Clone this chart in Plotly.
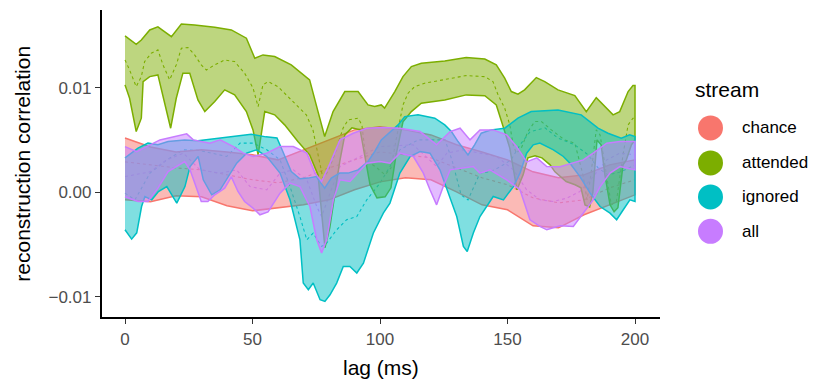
import plotly.graph_objects as go

# ---------------- data (values in units of 1e-3) ----------------
chance_lag = [0, 10, 20, 30, 40, 50, 60, 70, 80, 90, 100, 110, 120, 130, 140, 150, 160, 170, 180, 190, 200]
chance_up = [5.21, 4.35, 3.87, 4.07, 3.87, 3.59, 3.11, 4.07, 5.02, 5.98, 6.27, 5.98, 5.50, 4.55, 3.87, 3.11, 1.96, 1.39, 1.67, 2.63, 3.11]
chance_mid = [2.92, 2.63, 2.34, 2.15, 1.67, 1.20, 0.91, 1.39, 2.34, 3.11, 3.87, 3.59, 3.30, 2.34, 1.39, 0.72, -0.53, -1.01, -0.72, 0.43, 1.20]
chance_lo = [-0.72, -0.91, -0.34, -0.43, -1.29, -1.77, -1.48, -1.20, -0.72, 0.24, 1.00, 1.39, 1.20, 0.05, -1.20, -1.67, -3.21, -3.40, -2.15, -1.20, -0.24]

att_up_lag = [0, 4.4, 6.4, 9.7, 12.9, 18.2, 22.1, 27.3, 35.2, 41.7, 47.6, 50.9, 54.1, 58.7, 65.2, 72.4, 75.7, 78.3, 81.6, 86.2,
              91.4, 95.3, 97.9, 100.5, 101.8, 105.8, 109, 112.3, 116.2, 125.4, 133.8, 141.1, 145.6, 148.9, 151.5, 154.1, 156.7,
              161.3, 164.6, 169.8, 176.4, 180.9, 184.8, 188.1, 191.4, 194, 197.3, 199.2, 200]
att_up = [14.98, 14.18, 14.59, 15.55, 15.84, 14.91, 16.12, 16.03, 15.81, 15.55, 14.76, 12.84, 13.16, 13.00, 12.20, 10.77, 7.73,
          5.34, 7.73, 9.65, 9.65, 8.37, 8.21, 8.37, 8.06, 9.65, 11.08, 12.04, 12.36, 12.58, 12.90, 12.77, 12.20, 10.93, 9.65,
          9.40, 9.81, 10.99, 10.60, 9.81, 9.26, 7.73, 9.07, 8.21, 7.42, 7.73, 9.65, 10.22, 10.22]
att_mid_lag = [0, 1.8, 4.4, 6.4, 7.7, 10.3, 12.9, 14.9, 17.5, 20.1, 22.1, 24.7, 27.3, 29.9, 31.9, 35.2, 39.1, 43, 46.9, 50.2,
               52.2, 54.1, 56.1, 60, 65.2, 71.1, 73.7, 75.7, 77.6, 79.6, 82.2, 85.5, 87.5, 91.4, 92.9, 94.5, 98.8, 102, 104.3,
               106.3, 109, 111, 113.6, 117.5, 125.4, 133.8, 141.1, 144.3, 146.3, 148.9, 150.9, 152.2, 153.5, 155.4, 158, 160.7,
               163.3, 167.2, 172.4, 176.4, 179.6, 181.2, 182.7, 184.8, 186.3, 188.2, 190.7, 192.7, 195.3, 197.3, 199.2, 200]
att_mid = [12.68, 11.72, 10.12, 11.08, 12.52, 13.32, 13.64, 12.20, 10.77, 12.20, 13.80, 13.86, 13.16, 12.20, 11.72, 12.20, 12.68,
           12.52, 11.41, 10.0, 8.21, 10.29, 10.60, 10.12, 8.85, 7.42, 5.98, 3.59, 1.36, 1.99, 3.59, 6.14, 6.94, 7.10, 6.46, 3.11,
           2.34, 1.67, 2.34, 5.02, 8.37, 9.49, 10.12, 10.45, 10.77, 11.18, 11.08, 10.60, 9.33, 8.06, 6.46, 4.55, 3.75, 4.23, 5.82,
           6.78, 6.78, 5.98, 5.02, 4.71, 1.67, -0.72, 1.67, 5.98, 5.50, 2.63, -1.20, -0.88, 3.59, 6.46, 7.10, 7.10]
att_lo_lag = [0, 1.8, 4.4, 6.4, 7.1, 9.7, 12.9, 15.6, 17.9, 20.1, 22.7, 25.4, 28.6, 31.3, 35.2, 39.1, 43, 47.6, 50.2, 52.2, 54.8,
              58.7, 62.6, 67.8, 72.4, 75.7, 77.3, 78.4, 80.3, 82.2, 84.2, 86.2, 89, 92.2, 93.7, 96.1, 98.8, 102, 104.3, 106.3, 109,
              112.3, 116.2, 125.4, 133.8, 141.1, 145.6, 148.9, 150.9, 153.7, 156.1, 158, 160.8, 163.5, 166.7, 168.6, 173, 176.5,
              178.8, 180.4, 182.2, 183.5, 185.1, 186.7, 188.2, 190.2, 191.8, 193.3, 195.3, 196.6, 198.6, 200]
att_lo = [10.29, 9.01, 5.82, 7.10, 10.60, 11.08, 11.24, 8.37, 6.14, 9.01, 11.41, 11.41, 8.85, 7.73, 8.69, 9.81, 9.33, 7.73, 5.98,
          3.59, 7.73, 7.42, 6.46, 4.86, 3.59, 1.67, -2.15, -5.31, -3.40, -0.24, 2.95, 5.50, 6.17, 5.98, 4.07, 0.72, -0.53, -0.43,
          0.43, 3.59, 6.75, 7.73, 8.54, 8.85, 9.33, 9.26, 8.37, 5.82, 4.23, 0.24, 1.67, 3.30, 3.49, 3.30, 2.63, 1.96, 1.03, 0.72,
          0.43, -1.20, -1.39, 0.05, 5.02, 4.55, 1.67, -1.20, -1.87, -1.48, 2.63, 3.11, 4.55, 5.02]

ign_up_lag = [0, 5.1, 9.0, 12.9, 16.9, 23.4, 28.6, 36.5, 43.0, 49.5, 55.3, 59.6, 61.6, 65.2, 68.6, 71.8, 75.0, 78.3, 80.9, 84.2,
              87.5, 91.4, 95.3, 97.9, 100.5, 103.9, 107.1, 109.7, 114.9, 121.5, 125.4, 128.0, 130.6, 134.5, 137.1, 139.7, 143.6,
              148.9, 154.1, 159.3, 169.8, 178.9, 185.5, 189.4, 194.6, 197.9, 200]
ign_up = [3.30, 4.23, 4.71, 4.55, 4.86, 5.02, 4.93, 5.19, 5.34, 5.57, 5.31, 5.21, 4.07, 1.99, 1.29, 1.36, 1.51, 0.40, 1.36, 1.84,
          1.84, 2.15, 2.95, 3.90, 5.02, 5.79, 6.46, 7.25, 7.42, 7.10, 6.46, 5.82, 4.86, 3.59, 4.55, 5.66, 5.98, 6.14, 7.10, 7.73,
          7.89, 7.42, 6.14, 5.66, 5.19, 5.50, 5.34]
ign_mid_lag = [0, 3.9, 9.8, 16.4, 22.9, 29.4, 39.9, 45.1, 50.3, 55.6, 60.8, 64.7, 68.6, 71.3, 73.8, 77.1, 79.1, 83.0, 86.9, 90.9,
               94.8, 100, 103.9, 107.8, 114.9, 125.5, 128.2, 131.8, 134.5, 136.5, 139.2, 143.1, 147.1, 151.4, 154.9, 158.8, 164.7,
               169.8, 176.4, 181.6, 185.5, 189.4, 194.5, 200]
ign_mid = [-0.08, -0.72, 1.84, 3.11, 4.07, 4.00, 3.43, 4.71, 4.71, 4.07, 3.11, 0.55, -2.32, -4.55, -3.90, -5.19, -4.86, -3.59,
           -2.63, -2.32, -0.72, 0.88, 2.47, 4.07, 5.02, 5.02, 3.11, -0.24, -0.72, 0.43, 1.84, 1.96, 2.44, 3.11, 4.55, 5.79, 6.17,
           5.19, 4.55, 3.59, 2.34, 1.67, 1.96, 2.63]
ign_lo_lag = [0, 2.6, 4.6, 6.5, 7.8, 10.5, 13.1, 16.4, 20.3, 23.5, 25.5, 28.7, 30.7, 34.0, 37.3, 39.9, 43.8, 47.7, 51.6, 55.6, 60.8,
              64.7, 68.6, 69.9, 71.9, 73.8, 76.5, 78.4, 80.4, 83.0, 85.6, 88.2, 90.9, 93.5, 97.4, 101.3, 103.9, 107.8, 111.8, 115.7,
              119.6, 123.5, 126.2, 130.1, 132.7, 134.2, 136.6, 139.2, 144.4, 148.4, 152.3, 154.9, 157.5, 160.1, 162.7, 168.0, 171.9,
              174.5, 178.4, 182.4, 186.3, 190.2, 192.8, 195.4, 198.0, 200]
ign_lo = [-3.59, -4.48, -3.88, -1.36, -0.40, -0.72, 0.08, 0.55, -1.03, 0.55, 2.47, 3.43, 1.20, -0.24, 0.24, 1.20, 2.79, 3.75, 4.07,
          3.43, 1.84, -0.72, -4.55, -8.69, -9.33, -8.69, -10.29, -10.45, -9.81, -8.69, -7.10, -7.10, -7.73, -6.78, -3.90, -1.99,
          -1.03, 1.84, 3.43, 3.90, 3.75, 2.15, 0.24, -2.32, -5.19, -5.67, -3.90, -2.32, -0.40, -0.72, 0.55, 1.84, 3.75, 4.55,
          4.71, 4.07, 3.43, 2.79, 1.51, -0.08, -1.36, -1.99, -2.63, -1.67, -0.72, -0.88]

all_up_lag = [0, 4.6, 13.7, 18.9, 24.2, 26.8, 33.3, 37.3, 42.5, 46.4, 50.3, 55.6, 60.8, 66.0, 71.3, 74.5, 77.1, 80.4, 84.3, 89.5,
              94.8, 101.3, 107.8, 115.7, 122.2, 127.5, 131.4, 135.3, 139.2, 144.4, 149.7, 153.6, 157.5, 161.5, 165.4, 170.6,
              175.8, 179.7, 183.6, 188.9, 194.1, 200]
all_up = [4.38, 3.90, 5.02, 5.34, 5.60, 5.02, 4.71, 5.02, 4.38, 3.75, 3.43, 3.75, 4.38, 4.38, 3.75, 1.84, 1.03, 2.79, 5.02, 5.66,
          6.14, 6.20, 6.14, 5.82, 4.55, 5.82, 6.14, 5.02, 5.98, 5.98, 5.50, 4.38, 2.92, 3.30, 2.47, 2.44, 2.79, 3.11, 3.75, 4.71,
          4.86, 4.86]
all_mid_lag = [0, 9.8, 16.4, 22.9, 29.4, 37.3, 43.8, 49.0, 55.6, 60.8, 66.0, 71.3, 75.2, 77.1, 80.4, 84.3, 92.2, 100, 113, 119.6,
               122.2, 126.2, 132.7, 139.2, 145.8, 152.3, 157.5, 162.7, 168.0, 173.2, 178.4, 183.6, 188.9, 194.1, 200]
all_mid = [1.51, 1.96, 3.11, 3.75, 2.15, 1.84, 2.15, 0.55, 0.24, 1.84, 2.15, 1.20, -1.36, -2.32, -0.08, 2.47, 3.43, 4.38, 4.55,
           3.11, 2.47, 3.75, 4.07, 3.75, 3.43, 2.15, 0.24, -0.72, -0.88, -0.56, 0.08, 1.51, 3.11, 3.75, 3.59]
all_lo_lag = [0, 5.1, 9.0, 12.9, 16.9, 20.0, 23.4, 25.5, 27.5, 29.9, 32.5, 35.2, 39.1, 41.7, 44.3, 46.9, 50.2, 52.9, 56.1, 60.8,
              64.7, 68.6, 72.5, 75.2, 77.1, 79.1, 81.7, 84.3, 88.2, 94.8, 100, 103.9, 107.8, 113.1, 117.0, 119.6, 122.2, 124.8,
              127.5, 131.4, 136.6, 139.2, 143.1, 149.7, 154.9, 158.8, 162.7, 165.4, 170.6, 175.8, 179.7, 183.6, 186.3, 190.2,
              194.1, 200]
all_lo = [-0.43, -0.88, -0.88, 0.40, 1.99, 2.44, 2.95, 2.15, 0.72, -0.88, -0.88, -0.24, 0.40, 1.48, 0.08, -0.88, -1.51, -2.15,
          -1.87, -0.08, 0.88, 0.55, -1.36, -4.55, -5.82, -4.55, -0.72, 1.20, 1.03, 2.79, 2.95, 2.79, 3.75, 3.43, 1.84, 0.24,
          -1.20, 0.55, 2.15, 2.31, 2.47, 1.84, 2.15, 1.20, 0.24, -2.63, -3.27, -3.59, -3.21, -3.27, -1.99, -0.72, 0.55, 1.84,
          2.47, 2.15]

stream_names = ["chance", "attended", "ignored", "all"]
stream_colors = ["#F8766D", "#7CAE00", "#00BFC4", "#C77CFF"]
y_tick_vals = [-0.01, 0.0, 0.01]
y_tick_text = ["\u22120.01", "0.00", "0.01"]
x_tick_vals = [0, 50, 100, 150, 200]

SCALE = 1e-3


def rgba(hex_color, a):
    h = hex_color.lstrip("#")
    r, g, b = int(h[0:2], 16), int(h[2:4], 16), int(h[4:6], 16)
    return f"rgba({r},{g},{b},{a})"


series = [
    (chance_lag, chance_up, chance_lag, chance_mid, chance_lag, chance_lo),
    (att_up_lag, att_up, att_mid_lag, att_mid, att_lo_lag, att_lo),
    (ign_up_lag, ign_up, ign_mid_lag, ign_mid, ign_lo_lag, ign_lo),
    (all_up_lag, all_up, all_mid_lag, all_mid, all_lo_lag, all_lo),
]

fig = go.Figure()

# mean lines first (ribbons drawn over them)
for (ul, u, ml, m, ll, lo), name, col in zip(series, stream_names, stream_colors):
    fig.add_trace(go.Scatter(
        x=ml, y=[v * SCALE for v in m], mode="lines",
        line=dict(color=col, width=1.1, dash="dot"),
        showlegend=False, hoverinfo="skip"))

# ribbons
for (ul, u, ml, m, ll, lo), name, col in zip(series, stream_names, stream_colors):
    xs = list(ul) + list(reversed(ll))
    ys = [v * SCALE for v in u] + [v * SCALE for v in reversed(lo)]
    fig.add_trace(go.Scatter(
        x=xs, y=ys, mode="lines", fill="toself",
        fillcolor=rgba(col, 0.5), line=dict(color=col, width=1.5),
        name=name, showlegend=False, hoverinfo="skip"))

FONT = "Liberation Sans, Arial, sans-serif"

fig.update_layout(
    width=817, height=383,
    margin=dict(l=102, r=157, t=10, b=66),
    paper_bgcolor="white", plot_bgcolor="white",
    font=dict(family=FONT, color="black"),
    showlegend=False,
)
fig.update_xaxes(
    range=[-9.02, 209.8], showgrid=False, zeroline=False,
    showline=True, linecolor="black", linewidth=2.2,
    ticks="outside", ticklen=5, tickwidth=1.4, tickcolor="#333333",
    tickvals=x_tick_vals, tickfont=dict(size=17, color="#4D4D4D", family=FONT),
)
fig.update_yaxes(
    range=[-0.01194, 0.01746], showgrid=False, zeroline=False,
    showline=True, linecolor="black", linewidth=2.2,
    ticks="outside", ticklen=5, tickwidth=1.4, tickcolor="#333333",
    tickvals=y_tick_vals, ticktext=y_tick_text,
    tickfont=dict(size=17, color="#4D4D4D", family=FONT),
)

# axis titles
fig.add_annotation(text="lag (ms)", xref="paper", yref="paper", x=0.5, y=-0.165,
                   xanchor="center", yanchor="middle", showarrow=False,
                   font=dict(size=21, color="black", family=FONT))
fig.add_annotation(text="reconstruction correlation", xref="paper", yref="paper", x=-0.143, y=0.5,
                   xanchor="center", yanchor="middle", textangle=-90, showarrow=False,
                   font=dict(size=21, color="black", family=FONT))

# custom legend
fig.add_annotation(text="stream", xref="paper", yref="paper", x=1.059, y=0.740,
                   xanchor="left", yanchor="middle", showarrow=False,
                   font=dict(size=21, color="black", family=FONT))
legend_y = [0.616, 0.502, 0.391, 0.279]
for name, col, ly in zip(stream_names, stream_colors, legend_y):
    fig.add_shape(type="circle", xref="paper", yref="paper",
                  xsizemode="pixel", ysizemode="pixel",
                  xanchor=1.0905, yanchor=ly, x0=-12.5, x1=12.5, y0=-12.5, y1=12.5,
                  fillcolor=col, line=dict(width=0))
    fig.add_annotation(text=name, xref="paper", yref="paper", x=1.1434, y=ly,
                       xanchor="left", yanchor="middle", showarrow=False,
                       font=dict(size=17, color="black", family=FONT))

fig.write_html("out.html", config={"displayModeBar": False},
               post_script="document.body.style.margin='0px';")
